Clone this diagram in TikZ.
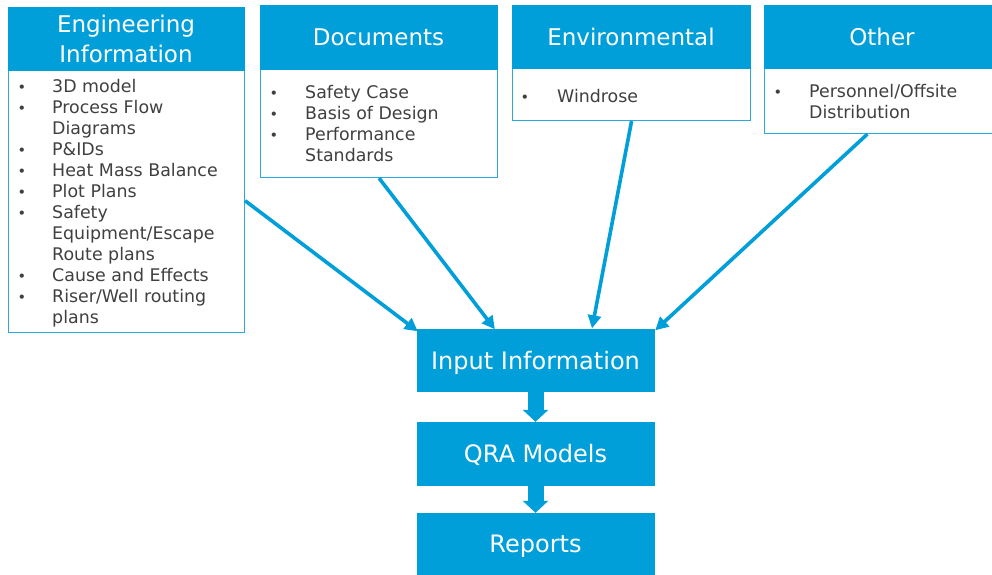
\documentclass[tikz,border=0pt]{standalone}
\usepackage{fontspec}
\setmainfont{DejaVu Sans}
\usetikzlibrary{arrows.meta,calc}
\definecolor{qblue}{HTML}{009FDA}
\definecolor{qedge}{HTML}{2AA9E0}
\definecolor{qtext}{HTML}{404040}
\tikzset{
  panel/.style={draw=qedge, line width=1.1pt, fill=white, anchor=north west, inner sep=0pt},
  hdr/.style={draw=qblue, fill=qblue, line width=0.5pt, anchor=north west, inner sep=0pt},
  hdrtxt/.style={anchor=base, text=white, inner sep=0pt, font=\fontsize{23}{30}\selectfont},
  itm/.style={anchor=base west, text=qtext, inner sep=0pt, font=\fontsize{17.4}{21}\selectfont},
  bul/.style={anchor=base, text=qtext, inner sep=0pt, font=\fontsize{14.5}{14.5}\selectfont},
  stage/.style={draw=qblue, fill=qblue, minimum width=237pt, text=white, inner sep=0pt,
    text height=17pt, text depth=0pt, font=\fontsize{24}{28}\selectfont},
  feed/.style={draw=qblue, line width=3.6pt, -{Triangle[length=13pt,width=13pt]}},
  flow/.style={draw=qblue, line width=16pt, -{Triangle[length=12pt,width=25pt]}, shorten >=0pt}
}
\begin{document}
\begin{tikzpicture}[x=1pt,y=-1pt]
\clip (0,0) rectangle (992,574);
\fill[white] (0,0) rectangle (992,574);

% ---- source panels ----
\node[panel, minimum width=236pt, minimum height=325pt] (eng) at (8,7) {};
\node[hdr, minimum width=236pt, minimum height=63pt] (engh) at (8,7) {};
\node[hdrtxt] (engt1) at (126,32) {Engineering};
\node[hdrtxt] (engt2) at (126,62) {Information};

\node[panel, minimum width=237pt, minimum height=172pt] (doc) at (260,5) {};
\node[hdr, minimum width=237pt, minimum height=64pt] (doch) at (260,5) {};
\node[hdrtxt] (doct) at (378.5,45) {Documents};

\node[panel, minimum width=238pt, minimum height=115pt] (env) at (512,5) {};
\node[hdr, minimum width=238pt, minimum height=63pt] (envh) at (512,5) {};
\node[hdrtxt] (envt) at (631,45) {Environmental};

\node[panel, minimum width=236pt, minimum height=128pt] (oth) at (764,5) {};
\node[hdr, minimum width=236pt, minimum height=63pt] (othh) at (764,5) {};
\node[hdrtxt] (otht) at (882,45) {Other};

% ---- bullet lists ----
\foreach \n/\b/\t in {
  1/1/3D model, 2/1/Process Flow, 3/0/Diagrams, 4/1/P\&IDs,
  5/1/Heat Mass Balance, 6/1/Plot Plans, 7/1/Safety,
  8/0/Equipment\slash Escape, 9/0/Route plans, 10/1/Cause and Effects,
  11/1/Riser\slash Well routing, 12/0/plans}{
  \node[itm] (engl\n) at (52,{92+21*(\n-1)}) {\t};
  \ifnum\b=1 \node[bul] (engb\n) at (22,{92+21*(\n-1)}) {•};\fi
}
\foreach \n/\b/\t in {1/1/Safety Case, 2/1/Basis of Design, 3/1/Performance, 4/0/Standards}{
  \node[itm] (docl\n) at (305,{98+21*(\n-1)}) {\t};
  \ifnum\b=1 \node[bul] (docb\n) at (274,{98+21*(\n-1)}) {•};\fi
}
\node[itm] (envl1) at (557,102) {Windrose};
\node[bul] (envb1) at (525,102) {•};
\node[itm] (othl1) at (809,97) {Personnel/Offsite};
\node[bul] (othb1) at (778,97) {•};
\node[itm] (othl2) at (809,118) {Distribution};

% ---- process stages ----
\node[stage, minimum height=62pt] (inp) at (535.5,360.5) {Input Information};
\node[stage, minimum height=63pt] (qra) at (535.5,453.5) {QRA Models};
\node[stage, minimum height=62pt] (rep) at (535.5,544) {Reports};

\draw[flow] (inp.south) -- (qra.north);
\draw[flow] (qra.south) -- (rep.north);

% ---- feeds into the input stage ----
\coordinate (s1) at ($(eng.north east)!0.594!(eng.south east)$);
\coordinate (s4) at ($(oth.south west)!0.436!(oth.south east)$);
\coordinate (t1) at ($(inp.north west)+(1,2)$);
\coordinate (t2) at ($(inp.north west)!0.329!(inp.north east)$);
\coordinate (t3) at ($(inp.north west)!0.738!(inp.north east)+(0,-1)$);
\coordinate (t4) at ($(inp.north east)+(1,1)$);
\draw[feed] (s1) -- (t1);
\draw[feed] (doc.south) -- (t2);
\draw[feed] (env.south) -- (t3);
\draw[feed] (s4) -- (t4);
\end{tikzpicture}
\end{document}
